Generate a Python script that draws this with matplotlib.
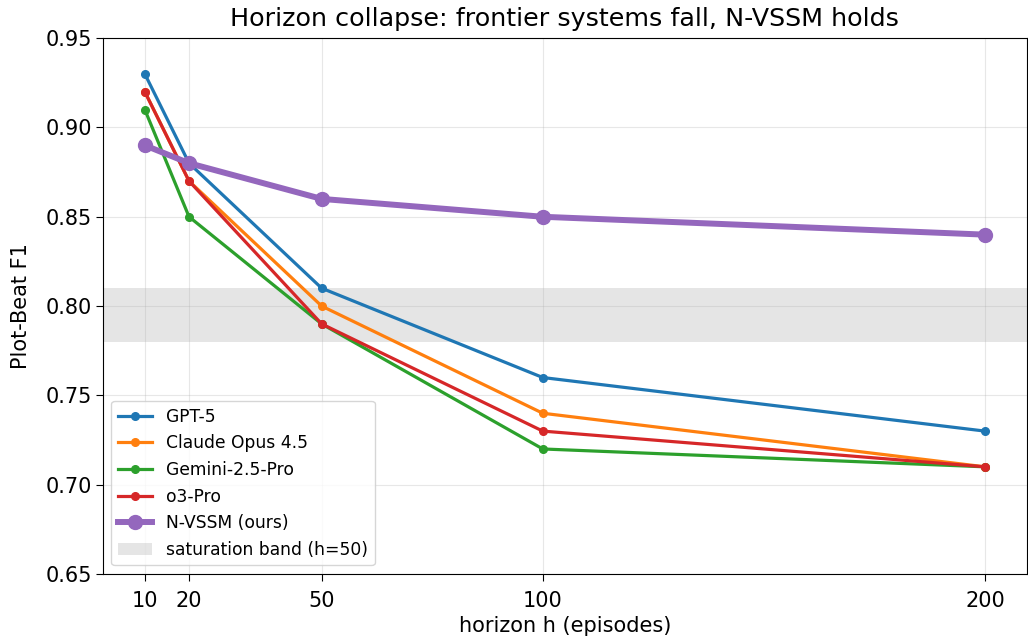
import matplotlib
matplotlib.use("Agg")
import matplotlib.pyplot as plt

horizons = [10, 20, 50, 100, 200]

gpt5 = [0.93, 0.88, 0.81, 0.76, 0.73]
claude = [0.92, 0.87, 0.80, 0.74, 0.71]
gemini = [0.91, 0.85, 0.79, 0.72, 0.71]
o3pro = [0.92, 0.87, 0.79, 0.73, 0.71]
nvssm = [0.89, 0.88, 0.86, 0.85, 0.84]

band_lo, band_hi = 0.78, 0.81

fig, ax = plt.subplots(figsize=(10.28, 6.36), dpi=100)
fig.subplots_adjust(left=0.1, right=0.999, top=0.94, bottom=0.0975)

ax.axhspan(band_lo, band_hi, color="gray", alpha=0.2, lw=0, label="saturation band (h=50)")

ax.plot(horizons, gpt5, "-o", color="#1f77b4", lw=2.3, ms=5.5, label="GPT-5")
ax.plot(horizons, claude, "-o", color="#ff7f0e", lw=2.3, ms=5.5, label="Claude Opus 4.5")
ax.plot(horizons, gemini, "-o", color="#2ca02c", lw=2.3, ms=5.5, label="Gemini-2.5-Pro")
ax.plot(horizons, o3pro, "-o", color="#d62728", lw=2.3, ms=5.5, label="o3-Pro")
ax.plot(horizons, nvssm, "-o", color="#9467bd", lw=4.3, ms=10, label="N-VSSM (ours)")

ax.set_ylim(0.65, 0.95)
ax.set_xticks(horizons)
ax.tick_params(labelsize=15, length=5)
ax.tick_params(axis="x", pad=7)
ax.tick_params(axis="y", pad=3)
ax.grid(True, alpha=0.3)
ax.set_xlabel("horizon h (episodes)", fontsize=15)
ax.set_ylabel("Plot-Beat F1", fontsize=15, labelpad=10)
ax.set_title("Horizon collapse: frontier systems fall, N-VSSM holds", fontsize=18.3, pad=9)

# band goes last in the legend
h, l = ax.get_legend_handles_labels()
h = h[1:] + h[:1]
l = l[1:] + l[:1]
ax.legend(h, l, loc="lower left", fontsize=12.3, labelspacing=0.5)

fig.savefig("out.png", dpi=100)
